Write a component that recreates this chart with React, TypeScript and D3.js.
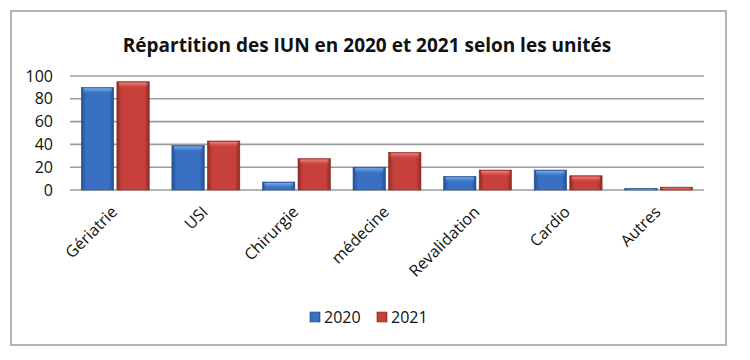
import * as React from 'react';
import * as d3 from 'd3';

const categories = ['Gériatrie', 'USI', 'Chirurgie', 'médecine', 'Revalidation', 'Cardio', 'Autres'];
const values2020 = [90, 39, 7, 20, 12, 17.5, 1.5];
const values2021 = [95, 43, 27.5, 33, 17.5, 12.5, 2.5];
const seriesNames = ['2020', '2021'];
const yTicks = [0, 20, 40, 60, 80, 100];

const W = 750;
const H = 360;
const margin = { left: 70, right: 46, top: 76, bottom: 170 };
const font = "'Open Sans', 'Noto Sans', sans-serif";

export default function App() {
  const plotW = W - margin.left - margin.right;
  const x = d3.scaleBand<string>().domain(categories).range([margin.left, margin.left + plotW]).paddingInner(0.25).paddingOuter(0.125);
  const xs = d3.scaleBand<string>().domain(seriesNames).range([0, x.bandwidth()]).paddingInner(0.09);
  const y = d3.scaleLinear().domain([0, 100]).range([190, 76]);
  const series = [values2020, values2021];
  const colors = [
    { edge: '#24508f', mid: '#3a70c4', hi: '#86b6f0' },
    { edge: '#8e2a26', mid: '#c8403b', hi: '#f0908a' },
  ];

  return (
    <svg width={W} height={H} style={{ position: 'absolute', left: 0, top: 0 }}>
      <defs>
        {colors.map((c, i) => (
          <linearGradient key={i} id={`g${i}`} x1="0" x2="1" y1="0" y2="0">
            <stop offset="0" stopColor={c.edge} />
            <stop offset="0.15" stopColor={c.mid} />
            <stop offset="0.85" stopColor={c.mid} />
            <stop offset="1" stopColor={c.edge} />
          </linearGradient>
        ))}
        {colors.map((c, i) => (
          <linearGradient key={'h' + i} id={`h${i}`} x1="0" x2="0" y1="0" y2="1">
            <stop offset="0" stopColor={c.hi} stopOpacity={0.9} />
            <stop offset="1" stopColor={c.mid} stopOpacity={0} />
          </linearGradient>
        ))}
      </defs>
      <rect x={11} y={11} width={715} height={334} fill="#fff" stroke="#9a9a9a" strokeWidth={1.5} />
      <text x={367} y={52} textAnchor="middle" fontFamily={font} fontWeight="bold" fontSize={19} fill="#111">
        Répartition des IUN en 2020 et 2021 selon les unités
      </text>
      {yTicks.map((t) => (
        <g key={t}>
          <line x1={margin.left} x2={margin.left + plotW} y1={y(t)} y2={y(t)} stroke="#9c9c9c" strokeWidth={1.6} />
          <text x={53} y={y(t)} dy="0.35em" textAnchor="end" fontFamily={font} fontSize={16} fill="#111">
            {t}
          </text>
        </g>
      ))}
      {categories.map((c, ci) => (
        <g key={c} transform={`translate(${x(c)},0)`}>
          {series.map((vals, si) => {
            const bx = xs(seriesNames[si]) as number;
            const bw = xs.bandwidth();
            const top = y(vals[ci]);
            const h = y(0) - top;
            return (
              <g key={si}>
                <rect x={bx} y={top} width={bw} height={h} fill={`url(#g${si})`} stroke={colors[si].edge} strokeWidth={0.6} />
                <rect x={bx + 2} y={top + 1} width={bw - 4} height={Math.min(6, h - 1)} fill={`url(#h${si})`} />
              </g>
            );
          })}
        </g>
      ))}
      {categories.map((c) => {
        const cx = (x(c) as number) + x.bandwidth() / 2 + 3;
        return (
          <text key={c} transform={`translate(${cx},213) rotate(-45)`} textAnchor="end" fontFamily={font} fontSize={16} fill="#111">
            {c}
          </text>
        );
      })}
      {seriesNames.map((s, i) => (
        <g key={s} transform={`translate(${310 + i * 67},312)`}>
          <rect x={0} y={0} width={10} height={10} fill={`url(#g${i})`} stroke={colors[i].edge} strokeWidth={0.6} />
          <text x={14} y={5} dy="0.35em" fontFamily={font} fontSize={16} fill="#111">
            {s}
          </text>
        </g>
      ))}
    </svg>
  );
}
